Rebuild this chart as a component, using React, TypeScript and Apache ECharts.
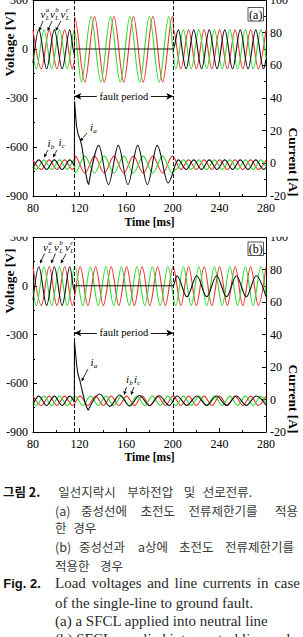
import React, { useEffect, useRef } from 'react';
import * as echarts from 'echarts';

// ---------- axes ----------
const timeTicks = [80, 120, 160, 200, 240, 280];
const voltageTicks = [-900, -600, -300, 0, 300];
const currentTicks = [-20, 0, 20, 40, 60, 80, 100];

const faultStartMs = 115.5;
const faultEndMs = 200.4;
const faultArrowVoltage = -290;

// ---------- panel (a): SFCL in neutral line ----------
// load voltages [ms, V] (extrema)
const vA_a = [[80,-86],[85.0,117],[91.7,-121],[98.3,117],[105.0,-121],[111.6,117],[115.5,-32],[115.55,0],[200.4,0],[204.7,117],[211.4,-121],[218.0,117],[224.7,-121],[231.3,117],[238.0,-121],[244.6,117],[251.3,-121],[257.9,117],[264.6,-121],[271.2,117],[277.9,-121],[280,-64]];
const vB_a = [[80,117],[87.2,-121],[93.9,117],[100.5,-121],[107.2,117],[113.8,-121],[115.5,-85],[115.55,196],[124.5,-202],[132.8,198],[141.2,-202],[149.5,198],[157.9,-202],[166.2,198],[174.6,-202],[182.9,198],[191.3,-202],[199.6,198],[200.4,196],[200.45,117],[206.9,-121],[213.6,117],[220.2,-121],[226.9,117],[233.5,-121],[240.2,117],[246.8,-121],[253.5,117],[260.1,-121],[266.8,117],[273.4,-121],[280,117]];
const vC_a = [[80,-29],[82.8,-121],[89.4,117],[96.1,-121],[102.7,117],[109.4,-121],[115.5,116],[121.5,-202],[129.8,198],[138.2,-202],[146.5,198],[154.9,-202],[163.2,198],[171.6,-202],[179.9,198],[188.3,-202],[196.6,198],[202.5,-121],[209.1,117],[215.8,-121],[222.4,117],[229.1,-121],[235.7,117],[242.4,-121],[249.0,117],[255.7,-121],[262.3,117],[269.0,-121],[275.6,117],[280,-57]];
// line currents [ms, A]
const iA_a_before = [[80,-2.9],[85.0,2.1],[91.7,-3.7],[98.3,2.1],[105.0,-3.7],[111.6,2.1],[115.5,-1.6]];
const iA_a_surge = [[115.5,-1.6],[115.7,38],[116.4,31],[117.3,23],[118.8,17.5],[120.3,15],[121.8,11],[123.5,3],[125.3,-6],[126.6,-11],[127.8,-13]];
const iA_a_after = [[127.8,-13],[136.4,11],[144.8,-13],[153.2,11],[161.5,-13],[169.9,11],[178.2,-13],[186.6,11],[196.0,-12],[204.7,2.1],[211.4,-3.7],[218.0,2.1],[224.7,-3.7],[231.3,2.1],[238.0,-3.7],[244.6,2.1],[251.3,-3.7],[257.9,2.1],[264.6,-3.7],[271.2,2.1],[277.9,-3.7],[280,-2.6]];
const iB_a = [[80,2.1],[87.2,-3.7],[93.9,2.1],[100.5,-3.7],[107.2,2.1],[113.8,-3.7],[115.5,-2.8],[116.1,4.4],[124.5,-6.0],[132.8,4.4],[141.2,-6.0],[149.5,4.4],[157.9,-6.0],[166.2,4.4],[174.6,-6.0],[182.9,4.4],[191.3,-6.0],[199.6,4.4],[206.9,-3.7],[213.6,2.1],[220.2,-3.7],[226.9,2.1],[233.5,-3.7],[240.2,2.1],[246.8,-3.7],[253.5,2.1],[260.1,-3.7],[266.8,2.1],[273.4,-3.7],[280,2.1]];
const iC_a = [[80,-1.5],[82.8,-3.7],[89.4,2.1],[96.1,-3.7],[102.7,2.1],[109.4,-3.7],[115.5,2.1],[116.1,-6.0],[124.5,4.4],[132.8,-6.0],[141.2,4.4],[149.5,-6.0],[157.9,4.4],[166.2,-6.0],[174.6,4.4],[182.9,-6.0],[191.3,4.4],[199.6,-6.0],[202.5,-3.7],[209.1,2.1],[215.8,-3.7],[222.4,2.1],[229.1,-3.7],[235.7,2.1],[242.4,-3.7],[249.0,2.1],[255.7,-3.7],[262.3,2.1],[269.0,-3.7],[275.6,2.1],[280,-2.2]];

// ---------- panel (b): SFCLs in neutral line and phase a ----------
const vA_b = [[80,-86],[85.0,117],[91.7,-121],[98.3,117],[105.0,-121],[111.6,117],[115.5,-32],[115.55,0],[200.4,0],[203.6,62],[212.1,-68],[220.6,62],[229.1,-68],[237.6,62],[246.1,-68],[254.6,62],[263.1,-68],[271.6,62],[280,-67]];
const vB_b = [[80,117],[87.2,-121],[93.9,117],[100.5,-121],[107.2,117],[113.8,-121],[120.5,117],[127.1,-121],[133.8,117],[140.4,-121],[147.1,117],[153.7,-121],[160.4,117],[167.0,-121],[173.7,117],[180.3,-121],[187.0,117],[193.6,-121],[200.3,117],[206.9,-121],[213.6,117],[220.2,-121],[226.9,117],[233.5,-121],[240.2,117],[246.8,-121],[253.5,117],[260.1,-121],[266.8,117],[273.4,-121],[280,117]];
const vC_b = [[80,-29],[82.8,-121],[89.4,117],[96.1,-121],[102.7,117],[109.4,-121],[116.0,117],[122.7,-121],[129.3,117],[136.0,-121],[142.6,117],[149.3,-121],[155.9,117],[162.6,-121],[169.2,117],[175.9,-121],[182.5,117],[189.2,-121],[195.8,117],[202.5,-121],[209.1,117],[215.8,-121],[222.4,117],[229.1,-121],[235.7,117],[242.4,-121],[249.0,117],[255.7,-121],[262.3,117],[269.0,-121],[275.6,117],[280,-57]];
const iA_b_before = [[80,-2.9],[85.0,2.1],[91.7,-3.7],[98.3,2.1],[105.0,-3.7],[111.6,2.1],[115.5,-1.6]];
const iA_b_surge = [[115.5,-1.6],[115.6,35.5],[116.2,35.5],[116.6,28],[117.5,21],[118.5,16],[120.3,11.4],[122.0,6],[124.0,0],[125.8,-4.5],[127.4,-6.6]];
const iA_b_after = [[127.4,-6.6],[137.4,3.4],[145.9,-4.2],[154.4,2.8],[162.9,-4.0],[171.4,2.5],[179.9,-3.8],[188.4,2.3],[196.9,-3.7],[203.6,2.2],[212.1,-3.6],[220.6,2.2],[229.1,-3.6],[237.6,2.2],[246.1,-3.6],[254.6,2.2],[263.1,-3.6],[271.6,2.2],[280,-3.5]];
const iB_b = [[80,2.1],[87.2,-3.7],[93.9,2.1],[100.5,-3.7],[107.2,2.1],[113.8,-3.7],[120.5,2.1],[127.1,-3.7],[133.8,2.1],[140.4,-3.7],[147.1,2.1],[153.7,-3.7],[160.4,2.1],[167.0,-3.7],[173.7,2.1],[180.3,-3.7],[187.0,2.1],[193.6,-3.7],[200.3,2.1],[206.9,-3.7],[213.6,2.1],[220.2,-3.7],[226.9,2.1],[233.5,-3.7],[240.2,2.1],[246.8,-3.7],[253.5,2.1],[260.1,-3.7],[266.8,2.1],[273.4,-3.7],[280,2.1]];
const iC_b = [[80,-1.5],[82.8,-3.7],[89.4,2.1],[96.1,-3.7],[102.7,2.1],[109.4,-3.7],[116.0,2.1],[122.7,-3.7],[129.3,2.1],[136.0,-3.7],[142.6,2.1],[149.3,-3.7],[155.9,2.1],[162.6,-3.7],[169.2,2.1],[175.9,-3.7],[182.5,2.1],[189.2,-3.7],[195.8,2.1],[202.5,-3.7],[209.1,2.1],[215.8,-3.7],[222.4,2.1],[229.1,-3.7],[235.7,2.1],[242.4,-3.7],[249.0,2.1],[255.7,-3.7],[262.3,2.1],[269.0,-3.7],[275.6,2.1],[280,-2.2]];

// ---------- caption ----------
const captionRows: { y: number; words: [string, number, string][] }[] = [
  { y: 491.7, words: [['그림 2.', 3, 'krBold'], ['일선지락시', 58.3, 'kr'], ['부하전압', 127.3, 'kr'], ['및', 183.8, 'kr'], ['선로전류.', 202.8, 'kr']] },
  { y: 510, words: [['(a)', 55, 'kr'], ['중성선에', 81, 'kr'], ['초전도', 140.5, 'kr'], ['전류제한기를', 188.5, 'kr'], ['적용', 275, 'kr']] },
  { y: 527.7, words: [['한', 55, 'kr'], ['경우', 73.3, 'kr']] },
  { y: 546.7, words: [['(b)', 55, 'kr'], ['중성선과', 79, 'kr'], ['a상에', 138, 'kr'], ['초전도', 179, 'kr'], ['전류제한기를', 225, 'kr']] },
  { y: 565, words: [['적용한', 55, 'kr'], ['경우', 100, 'kr']] },
  { y: 583.3, words: [['Fig. 2.', 3.3, 'enBold'], ['Load', 55, 'en'], ['voltages', 91.5, 'en'], ['and', 147.2, 'en'], ['line', 174.6, 'en'], ['currents', 202.8, 'en'], ['in', 256.8, 'en'], ['case', 274.2, 'en']] },
  { y: 602.7, words: [['of the single-line to ground fault.', 55, 'en']] },
  { y: 620.7, words: [['(a) a SFCL applied into neutral line', 55, 'en']] },
  { y: 639.3, words: [['(b) SFCLs applied into neutral line and', 55, 'en']] },
];

const SERIF = '"Liberation Serif", "Times New Roman", serif';
const SANS = '"Liberation Sans", Arial, sans-serif';
const KR = '"Noto Sans CJK KR", sans-serif';
const BLACK = '#111111';
const RED = '#ee3030';
const GREEN = '#2fdc2f';

const captionFonts: Record<string, { font: string; color: string }> = {
  krBold: { font: `normal bold 12.5px ${KR}`, color: '#111' },
  kr: { font: `normal normal 12.5px ${KR}`, color: '#3a3a3a' },
  enBold: { font: `normal bold 13px ${SANS}`, color: '#111' },
  en: { font: `normal normal 15px ${SERIF}`, color: '#2a2a2a' },
};

function txt(text: string, x: number, y: number, font: string, color = '#000', align = 'left', rotation = 0, z = 20) {
  return {
    type: 'text', x, y, rotation, z, silent: true,
    style: { text, font, fill: color, align, verticalAlign: 'middle', textAlign: align, textVerticalAlign: 'middle' },
  };
}

function arrow(x1: number, y1: number, x2: number, y2: number) {
  const a = Math.atan2(y2 - y1, x2 - x1);
  const L = 3.6, W = 1.7;
  const bx = x2 - L * Math.cos(a), by = y2 - L * Math.sin(a);
  const px = -Math.sin(a) * W, py = Math.cos(a) * W;
  return [
    { type: 'line', z: 20, silent: true, shape: { x1, y1, x2: bx, y2: by }, style: { stroke: '#000', lineWidth: 0.8 } },
    { type: 'polygon', z: 20, silent: true, shape: { points: [[x2, y2], [bx + px, by + py], [bx - px, by - py]] }, style: { fill: '#000' } },
  ];
}

function vLabel(x: number, y: number, sup: string) {
  return [
    txt('v', x, y, `italic normal 11px ${SERIF}`),
    txt(sup, x + 5.2, y - 4.5, `italic normal 7px ${SERIF}`),
    txt('L', x + 5.2, y + 3, `italic normal 6.5px ${SERIF}`),
  ];
}

function iLabel(x: number, y: number, sub: string) {
  return [
    txt('i', x, y, `italic normal 11px ${SERIF}`),
    txt(sub, x + 3.2, y + 4.2, `italic normal 7px ${SERIF}`),
  ];
}

function panelBox(x: number, y: number, label: string) {
  return [
    { type: 'rect', z: 20, silent: true, shape: { x, y, width: 15.5, height: 13.5 }, style: { fill: '#fff', stroke: '#555', lineWidth: 1 } },
    txt(label, x + 7.75, y + 7, `normal normal 12px ${SERIF}`, '#000', 'center'),
  ];
}

function trace(data: number[][], color: string, xi: number, yi: number, smooth = true, extra: any = {}) {
  return {
    type: 'line', xAxisIndex: xi, yAxisIndex: yi, data,
    symbol: 'none', showSymbol: false,
    smooth: smooth ? 0.34 : false, smoothMonotone: 'x',
    lineStyle: { color, width: 1.1 }, itemStyle: { color },
    silent: true, emphasis: { disabled: true },
    ...extra,
  };
}

const faultLines = {
  symbol: 'none', silent: true, label: { show: false },
  lineStyle: { color: '#000', type: [4, 2], width: 0.9 },
  data: [{ xAxis: faultStartMs }, { xAxis: faultEndMs }],
};
const faultArrow = {
  symbol: ['arrow', 'arrow'], symbolSize: [5, 7], silent: true, label: { show: false },
  lineStyle: { color: '#000', type: 'solid', width: 0.9 },
  data: [[{ coord: [faultStartMs, faultArrowVoltage] }, { coord: [faultEndMs, faultArrowVoltage] }]],
};
const faultText = {
  z: 10, silent: true,
  data: [{
    coord: [(faultStartMs + faultEndMs) / 2, faultArrowVoltage],
    symbol: 'rect', symbolSize: [54, 10], itemStyle: { color: '#fff' },
    label: { show: true, position: 'inside', formatter: 'fault period', fontFamily: SERIF, fontSize: 10.5, color: '#000' },
  }],
};

const tickLabel = { fontFamily: SERIF, fontSize: 12, color: '#000' };

function bottomX(gridIndex: number, nameGap: number) {
  return {
    type: 'value', gridIndex, position: 'bottom',
    min: timeTicks[0], max: timeTicks[timeTicks.length - 1], interval: timeTicks[1] - timeTicks[0],
    name: 'Time [ms]', nameLocation: 'middle', nameGap,
    nameTextStyle: { fontFamily: SERIF, fontSize: 11.5, fontWeight: 'bold', color: '#000' },
    axisLine: { show: true, onZero: false, lineStyle: { color: '#000', width: 1 } },
    axisTick: { show: true, inside: true, length: 4, lineStyle: { color: '#000' } },
    minorTick: { show: true, splitNumber: 2, length: 2, lineStyle: { color: '#000' } },
    axisLabel: { ...tickLabel, margin: 6 },
    splitLine: { show: false },
  };
}
function topX(gridIndex: number) {
  return {
    type: 'value', gridIndex, position: 'top',
    min: timeTicks[0], max: timeTicks[timeTicks.length - 1], interval: timeTicks[1] - timeTicks[0],
    axisLine: { show: true, onZero: false, lineStyle: { color: '#000', width: 1 } },
    axisTick: { show: false }, axisLabel: { show: false }, splitLine: { show: false },
  };
}
// the top tick label of each y axis is drawn separately so that it can be clipped like the original
function leftY(gridIndex: number) {
  return {
    type: 'value', gridIndex, position: 'left',
    min: voltageTicks[0], max: voltageTicks[voltageTicks.length - 1], interval: voltageTicks[1] - voltageTicks[0],
    axisLine: { show: true, onZero: false, lineStyle: { color: '#000', width: 1 } },
    axisTick: { show: true, inside: true, length: 4, lineStyle: { color: '#000' } },
    minorTick: { show: true, splitNumber: 2, length: 2, lineStyle: { color: '#000' } },
    axisLabel: { ...tickLabel, margin: 5, showMaxLabel: false },
    splitLine: { show: false },
  };
}
function rightY(gridIndex: number) {
  return {
    type: 'value', gridIndex, position: 'right',
    min: currentTicks[0], max: currentTicks[currentTicks.length - 1], interval: currentTicks[1] - currentTicks[0],
    axisLine: { show: true, onZero: false, lineStyle: { color: '#000', width: 1 } },
    axisTick: { show: true, inside: true, length: 4, lineStyle: { color: '#000' } },
    minorTick: { show: true, splitNumber: 2, length: 2, lineStyle: { color: '#000' } },
    axisLabel: { ...tickLabel, margin: 4, showMaxLabel: false },
    splitLine: { show: false },
  };
}

const GRID_TOPS = [0, 237];

export default function App() {
  const ref = useRef<HTMLDivElement>(null);
  useEffect(() => {
    document.body.style.margin = '0';
    if (!ref.current) return;
    const chart = echarts.init(ref.current, undefined, { renderer: 'svg' });

    const graphic: any[] = [];
    // top tick labels (clipped by the page edge / the strip above panel b)
    const tickFont = `normal normal 12px ${SERIF}`;
    GRID_TOPS.forEach((top) => {
      graphic.push(txt(String(voltageTicks[voltageTicks.length - 1]), 28, top, tickFont, '#000', 'right', 0, 5));
      graphic.push(txt(String(currentTicks[currentTicks.length - 1]), 270, top, tickFont, '#000', 'left', 0, 5));
    });
    // cut-off strip above panel (b)
    graphic.push({ type: 'rect', z: 100, silent: true, shape: { x: 0, y: 229, width: 303, height: 7.8 }, style: { fill: '#fff' } });
    // axis titles
    const titleFont = `normal bold 13.5px ${SERIF}`;
    graphic.push(txt('Voltage [V]', 9.5, 44, titleFont, '#000', 'center', Math.PI / 2));
    graphic.push(txt('Voltage [V]', 9.5, 281, titleFont, '#000', 'center', Math.PI / 2));
    graphic.push(txt('Current [A]', 293, 162, titleFont, '#000', 'center', -Math.PI / 2));
    graphic.push(txt('Current [A]', 293, 399, titleFont, '#000', 'center', -Math.PI / 2));
    // panel tags
    graphic.push(...panelBox(248, 7.5, '(a)'));
    graphic.push(...panelBox(248, 242, '(b)'));
    // panel (a) annotations
    graphic.push(...vLabel(40.5, 14, 'a'), ...vLabel(50, 14, 'b'), ...vLabel(60.5, 14, 'c'));
    graphic.push(...arrow(43, 21, 39, 31), ...arrow(52, 21, 47.5, 31), ...arrow(61, 21, 55.5, 31));
    graphic.push(...iLabel(90, 127, 'a'), ...arrow(87, 133, 80, 141.5));
    graphic.push(...iLabel(47.5, 143, 'b'), ...iLabel(58.5, 142, 'c'));
    graphic.push(...arrow(48, 150, 44, 157.5), ...arrow(57, 150, 53, 157.5));
    // panel (b) annotations
    graphic.push(...vLabel(43, 247, 'a'), ...vLabel(54, 247, 'b'), ...vLabel(65, 247, 'c'));
    graphic.push(...arrow(44.5, 253.5, 40, 263.5), ...arrow(55.5, 253.5, 51, 263.5), ...arrow(66, 254, 60.7, 263.5));
    graphic.push(...iLabel(90.5, 362, 'a'), ...arrow(88, 369, 81.5, 381.5));
    graphic.push(...iLabel(126, 379, 'b'), ...iLabel(134, 378.5, 'c'));
    graphic.push(...arrow(126.5, 387, 124, 395), ...arrow(134, 387, 131, 395));
    // caption
    captionRows.forEach((row) => {
      row.words.forEach(([w, x, kind]) => {
        const f = captionFonts[kind];
        graphic.push(txt(w, x, row.y, f.font, f.color));
      });
    });

    const option: any = {
      animation: false,
      backgroundColor: '#fff',
      grid: [
        { left: 33, top: GRID_TOPS[0], width: 233, height: 196, containLabel: false },
        { left: 33, top: GRID_TOPS[1], width: 233, height: 195, containLabel: false },
      ],
      xAxis: [bottomX(0, 19.5), bottomX(1, 19), topX(0), topX(1)],
      yAxis: [leftY(0), rightY(0), leftY(1), rightY(1)],
      series: [
        // panel (a) currents
        trace(iB_a, RED, 0, 1),
        trace(iC_a, GREEN, 0, 1),
        trace(iA_a_before, BLACK, 0, 1),
        trace(iA_a_surge, BLACK, 0, 1, false),
        trace(iA_a_after, BLACK, 0, 1),
        // panel (a) voltages
        trace(vB_a, RED, 0, 0, true, { markLine: faultArrow }),
        trace(vC_a, GREEN, 0, 0, true, { markPoint: faultText }),
        trace(vA_a, BLACK, 0, 0, true, { markLine: faultLines }),
        // panel (b) currents
        trace(iB_b, RED, 1, 3),
        trace(iC_b, GREEN, 1, 3),
        trace(iA_b_before, BLACK, 1, 3),
        trace(iA_b_surge, BLACK, 1, 3, false),
        trace(iA_b_after, BLACK, 1, 3),
        // panel (b) voltages
        trace(vB_b, RED, 1, 2, true, { markLine: faultArrow }),
        trace(vC_b, GREEN, 1, 2, true, { markPoint: faultText }),
        trace(vA_b, BLACK, 1, 2, true, { markLine: faultLines }),
      ],
      graphic,
    };
    chart.setOption(option);
    return () => chart.dispose();
  }, []);
  return <div ref={ref} style={{ width: 303, height: 637 }} />;
}
